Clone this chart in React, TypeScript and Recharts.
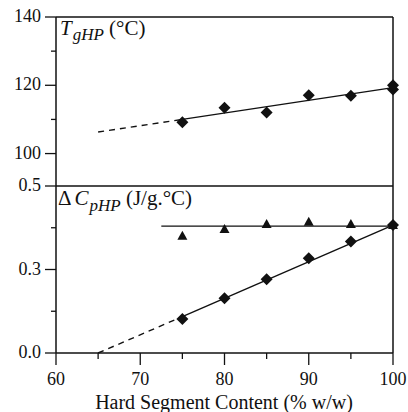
import {
  ComposedChart,
  Line,
  Scatter,
  XAxis,
  YAxis,
  ReferenceLine,
} from 'recharts';

// hard segment content (% w/w)
const hardSegment = [75, 80, 85, 90, 95, 100];
const xTicks = [60, 65, 70, 75, 80, 85, 90, 95, 100];

// T_gHP (°C) — two overlapping points at 100
const tgX = [75, 80, 85, 90, 95, 100, 100];
const tgValues = [109.2, 113.4, 112.0, 117.1, 116.9, 118.8, 120.0];
const tgFitX = [65, 75, 100];
const tgFitY = [106.3, 110.0, 119.3];
const tgTicks = [100, 110, 120, 130, 140];

// ΔC_pHP (J/g.°C)
const dcpDiamonds = [0.102, 0.164, 0.221, 0.284, 0.334, 0.383];
const dcpTriangles = [0.351, 0.371, 0.386, 0.393, 0.386, 0.383];
const dcpFitX = [65, 75, 100];
const dcpFitY = [0, 0.109, 0.383];
const plateauX = [72.5, 100];
const plateauY = [0.38, 0.38];
const dcpTicks = [0, 0.125, 0.25, 0.375, 0.5];
const dcpMajor = [0, 0.25, 0.5];

const INK = '#111';
const FONT = "'Liberation Serif', 'Times New Roman', serif";
const W = 408;
const H = 412;

const pts = (xs: number[], ys: number[]) => xs.map((x, i) => ({ x, y: ys[i] }));

function Diamond(props: any) {
  const { cx, cy } = props;
  if (cx == null || cy == null) return null;
  return <polygon points={`${cx},${cy - 6} ${cx + 6},${cy} ${cx},${cy + 6} ${cx - 6},${cy}`} fill={INK} />;
}

function Triangle(props: any) {
  const { cx, cy } = props;
  if (cx == null || cy == null) return null;
  return <polygon points={`${cx},${cy - 5} ${cx + 5},${cy + 4} ${cx - 5},${cy + 4}`} fill={INK} />;
}

function YTick(props: any) {
  const { x, y, payload, major, fmt } = props;
  const isMajor = major.includes(payload.value);
  return (
    <g>
      <line x1={x - (isMajor ? 11 : 5)} x2={x} y1={y} y2={y} stroke={INK} strokeWidth={1.3} />
      {isMajor && (
        <text x={x - 15} y={y} dy={5} textAnchor="end" style={{ fontFamily: FONT, fontSize: 18 }} fill={INK}>
          {fmt(payload.value)}
        </text>
      )}
    </g>
  );
}

function XTick(props: any) {
  const { x, y, payload } = props;
  const isMajor = payload.value % 10 === 0;
  return (
    <g>
      <line x1={x} x2={x} y1={y} y2={y + (isMajor ? 12 : 6)} stroke={INK} strokeWidth={1.3} />
      {isMajor && (
        <text x={x} y={y + 32} textAnchor="middle" style={{ fontFamily: FONT, fontSize: 18 }} fill={INK}>
          {payload.value}
        </text>
      )}
    </g>
  );
}

export default function App() {
  const tgPoints = pts(tgX, tgValues);
  const tgFit = pts(tgFitX, tgFitY);
  const dcpFit = pts(dcpFitX, dcpFitY);

  return (
    <div style={{ position: 'absolute', left: 0, top: 0, width: W, height: H, background: '#fff' }}>
      {/* top panel: T_gHP */}
      <div style={{ position: 'absolute', left: 0, top: 0 }}>
        <ComposedChart width={W} height={H} margin={{ top: 17, right: 15, bottom: H - 186, left: 0 }}>
          <XAxis dataKey="x" type="number" domain={[60, 100]} ticks={xTicks} hide />
          <YAxis
            type="number"
            domain={[90.5, 140]}
            ticks={tgTicks}
            width={56}
            tickSize={0}
            tickMargin={0}
            axisLine={{ stroke: INK, strokeWidth: 1.5 }}
            tick={<YTick major={[100, 120, 140]} fmt={(v: number) => String(v)} />}
          />
          <ReferenceLine y={140} stroke={INK} strokeWidth={1.5} />
          <ReferenceLine x={100} stroke={INK} strokeWidth={1.5} />
          <Line
            data={tgFit.slice(0, 2)}
            dataKey="y"
            type="linear"
            stroke={INK}
            strokeWidth={1.4}
            strokeDasharray="6 5"
            dot={false}
            isAnimationActive={false}
          />
          <Line
            data={tgFit.slice(1)}
            dataKey="y"
            type="linear"
            stroke={INK}
            strokeWidth={1.4}
            dot={false}
            isAnimationActive={false}
          />
          <Scatter data={tgPoints} dataKey="y" shape={<Diamond />} isAnimationActive={false} />
        </ComposedChart>
      </div>

      {/* bottom panel: ΔC_pHP */}
      <div style={{ position: 'absolute', left: 0, top: 0 }}>
        <ComposedChart width={W} height={H} margin={{ top: 186, right: 15, bottom: 0, left: 0 }}>
          <XAxis
            dataKey="x"
            type="number"
            domain={[60, 100]}
            ticks={xTicks}
            height={59}
            tickSize={0}
            tickMargin={0}
            axisLine={{ stroke: INK, strokeWidth: 1.5 }}
            tick={<XTick />}
          />
          <YAxis
            type="number"
            domain={[0, 0.5]}
            ticks={dcpTicks}
            width={56}
            tickSize={0}
            tickMargin={0}
            axisLine={{ stroke: INK, strokeWidth: 1.5 }}
            tick={<YTick major={dcpMajor} fmt={(v: number) => v.toFixed(1)} />}
          />
          <ReferenceLine y={0.5} stroke={INK} strokeWidth={1.5} />
          <ReferenceLine x={100} stroke={INK} strokeWidth={1.5} />
          <Line
            data={pts(plateauX, plateauY)}
            dataKey="y"
            type="linear"
            stroke={INK}
            strokeWidth={1.4}
            dot={false}
            isAnimationActive={false}
          />
          <Line
            data={dcpFit.slice(0, 2)}
            dataKey="y"
            type="linear"
            stroke={INK}
            strokeWidth={1.4}
            strokeDasharray="6 5"
            dot={false}
            isAnimationActive={false}
          />
          <Line
            data={dcpFit.slice(1)}
            dataKey="y"
            type="linear"
            stroke={INK}
            strokeWidth={1.4}
            dot={false}
            isAnimationActive={false}
          />
          <Scatter data={pts(hardSegment, dcpTriangles)} dataKey="y" shape={<Triangle />} isAnimationActive={false} />
          <Scatter data={pts(hardSegment, dcpDiamonds)} dataKey="y" shape={<Diamond />} isAnimationActive={false} />
        </ComposedChart>
      </div>

      {/* panel labels and axis title */}
      <svg width={W} height={H} style={{ position: 'absolute', left: 0, top: 0, pointerEvents: 'none' }}>
        <text x={60} y={35} style={{ fontFamily: FONT, fontSize: 21 }} fill={INK}>
          <tspan fontStyle="italic">T</tspan>
          <tspan fontStyle="italic" style={{ fontSize: 17 }} dx={1} dy={5}>gHP</tspan>
          <tspan dy={-5}> (°C)</tspan>
        </text>
        <text x={58} y={205} style={{ fontFamily: FONT, fontSize: 21 }} fill={INK}>
          <tspan>Δ</tspan>
          <tspan fontStyle="italic" dx={3}>C</tspan>
          <tspan fontStyle="italic" style={{ fontSize: 17 }} dx={1} dy={6}>pHP</tspan>
          <tspan dy={-6}> (J/g.°C)</tspan>
        </text>
        <text x={224} y={409} textAnchor="middle" style={{ fontFamily: FONT, fontSize: 20 }} fill={INK}>
          Hard Segment Content (% w/w)
        </text>
      </svg>
    </div>
  );
}
